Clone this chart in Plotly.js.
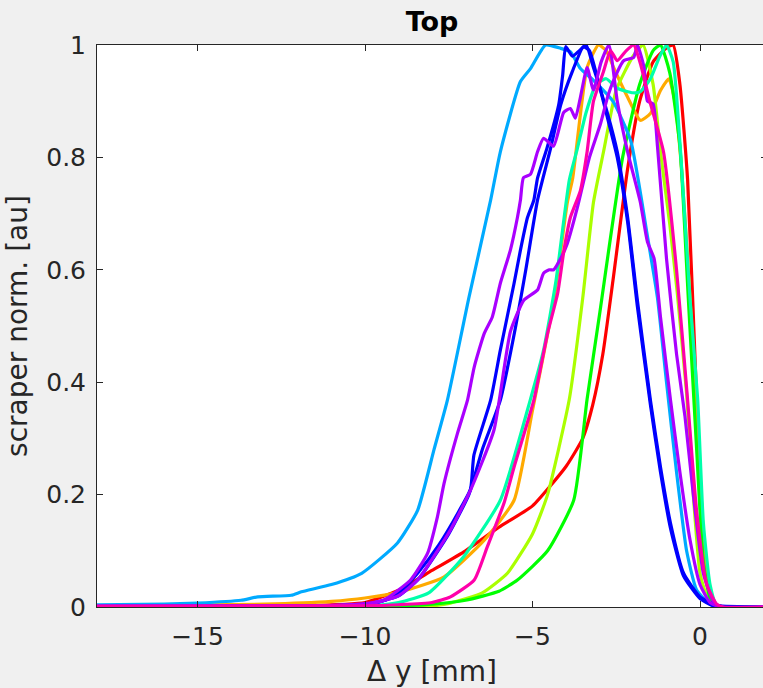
<!DOCTYPE html>
<html>
<head>
<meta charset="utf-8">
<script src="https://cdn.plot.ly/plotly-3.0.1.min.js"></script>
<style>
  html, body { margin: 0; padding: 0; overflow: hidden; background: #f0f0f0; }
  #chart { width: 770px; height: 688px; }
</style>
</head>
<body>
<div id="chart"></div>
<script>
// ---- data (x in mm, y normalised) ----
const redX = [-18,-12,-10,-9,-8,-7,-6,-5,-4,-3.5,-3.2,-2.9,-2.6,-2.16,-1.8,-1.4,-1.0,-0.8,-0.6,-0.37,-0.1,0.1,0.3,0.5,2];
const redY = [0,0.002,0.008,0.03,0.065,0.1,0.142,0.18,0.25,0.3,0.36,0.45,0.58,0.78,0.9,0.97,0.995,1.0,0.93,0.76,0.37,0.13,0.03,0.003,0];

const orangeX = [-18,-13,-11,-10,-8.94,-7.65,-6.44,-5.55,-5,-4.36,-3.96,-3.8,-3.37,-3.03,-2.8,-2.58,-2.16,-1.78,-1.48,-1.18,-0.93,-0.75,-0.55,-0.35,-0.1,0.1,0.3,0.5,2];
const orangeY = [0.002,0.005,0.01,0.016,0.027,0.053,0.119,0.19,0.35,0.546,0.72,0.763,0.96,1.0,0.99,0.96,0.907,0.866,0.878,0.919,0.94,0.9,0.78,0.6,0.35,0.13,0.03,0.003,0];

const limeX = [-18,-8,-7.45,-6.5,-5.75,-5,-4.55,-3.9,-3.5,-3.18,-2.88,-2.5,-2.0,-1.7,-1.4,-1.18,-0.9,-0.68,-0.4,-0.2,0,0.2,0.5,2];
const limeY = [0,0.002,0.007,0.025,0.06,0.13,0.2,0.37,0.55,0.72,0.81,0.92,0.98,1.0,0.93,0.81,0.68,0.56,0.38,0.2,0.06,0.02,0.002,0];

const greenX = [-18,-9,-8,-7,-6,-5.45,-4.55,-3.77,-3.37,-3.0,-2.31,-1.8,-1.4,-1.18,-0.9,-0.6,-0.35,-0.1,0.1,0.3,0.5,2];
const greenY = [0,0.002,0.005,0.012,0.028,0.048,0.1,0.19,0.37,0.52,0.8,0.93,0.99,1.0,0.95,0.82,0.55,0.28,0.08,0.015,0,0];

const springX = [-18,-10,-9,-8.1,-7.05,-5.96,-5.06,-4.67,-4.3,-3.9,-3.66,-3.4,-3.1,-2.8,-2.47,-2.0,-1.78,-1.48,-1.2,-1.0,-0.8,-0.58,-0.3,-0.07,0.1,0.3,0.5,2];
const springY = [0,0.002,0.008,0.025,0.09,0.19,0.37,0.457,0.58,0.76,0.816,0.88,0.93,0.94,0.923,0.915,0.917,0.94,0.98,1.0,0.97,0.81,0.55,0.37,0.15,0.04,0.003,0];

const skyX = [-18,-16,-15,-13.7,-13.2,-12.2,-11.9,-11,-10.1,-9.03,-8.43,-7.94,-7.54,-6.9,-6.25,-5.96,-5.36,-5.06,-4.61,-4.16,-3.87,-3.57,-3.18,-2.6,-2.07,-1.57,-1.27,-1.0,-0.7,-0.4,-0.1,0.3,0.6,2];
const skyY = [0.004,0.005,0.007,0.012,0.018,0.021,0.027,0.04,0.06,0.114,0.172,0.28,0.368,0.55,0.724,0.81,0.935,0.958,1.0,0.994,0.988,0.958,0.937,0.9,0.83,0.66,0.55,0.4,0.24,0.1,0.03,0.005,0,0];

const blueAX = [-18,-11,-10,-9.4,-8.9,-8.43,-7.8,-7.2,-6.85,-6.75,-6.25,-5.96,-5.55,-5.36,-5.15,-4.96,-4.85,-4.57,-4.22,-4.1,-4.01,-3.81,-3.6,-3.4,-3.18,-2.76,-2.47,-2.16,-1.87,-1.48,-1.18,-0.88,-0.49,0,0.5,2];
const blueAY = [0,0.002,0.005,0.012,0.03,0.06,0.11,0.17,0.21,0.27,0.368,0.457,0.576,0.635,0.693,0.724,0.763,0.816,0.893,0.946,0.997,0.98,0.99,1.0,0.96,0.878,0.81,0.693,0.546,0.368,0.249,0.149,0.06,0.018,0.003,0];

const blueBX = [-18,-11,-10,-9,-8.4,-7.5,-6.9,-6.5,-5.96,-5.5,-5.2,-4.85,-4.46,-4.16,-3.81,-3.48,-3.3,-3.1,-2.76,-2.47,-2.16,-1.87,-1.48,-1.18,-0.88,-0.49,0,0.4,2];
const blueBY = [0,0.002,0.004,0.02,0.05,0.13,0.2,0.28,0.368,0.5,0.6,0.724,0.816,0.893,0.953,0.997,0.99,0.95,0.87,0.8,0.685,0.535,0.36,0.24,0.14,0.055,0.015,0.002,0];

const violetAX = [-18,-11,-10,-9.45,-8.64,-8.13,-7.84,-7.64,-7.24,-6.94,-6.74,-6.44,-6.2,-5.96,-5.66,-5.45,-5.36,-5.27,-5.06,-4.85,-4.67,-4.37,-4.07,-3.87,-3.72,-3.57,-3.37,-3.18,-2.95,-2.72,-2.47,-2.16,-1.78,-1.57,-1.37,-1.18,-0.88,-0.6,-0.3,0,0.3,0.6,2];
const violetAY = [0.002,0.003,0.006,0.012,0.048,0.096,0.16,0.22,0.309,0.368,0.427,0.487,0.516,0.576,0.635,0.693,0.724,0.764,0.77,0.81,0.834,0.82,0.88,0.887,0.87,0.907,0.96,0.92,0.97,1.0,0.9,0.81,0.72,0.65,0.62,0.516,0.368,0.24,0.12,0.04,0.008,0,0];

const violetBX = [-18,-11,-10,-9,-8.4,-7.45,-6.85,-6.15,-5.66,-5.26,-4.85,-4.67,-4.5,-4.37,-4.16,-3.96,-3.66,-3.3,-2.97,-2.76,-2.58,-2.28,-1.98,-1.87,-1.67,-1.57,-1.4,-1.27,-1.0,-0.7,-0.45,-0.2,0.1,0.4,0.6,2];
const violetBY = [0,0.002,0.004,0.02,0.05,0.137,0.208,0.315,0.49,0.546,0.564,0.594,0.6,0.6,0.62,0.647,0.711,0.8,0.86,0.907,0.937,0.972,0.978,1.0,0.96,0.9,0.895,0.82,0.62,0.45,0.34,0.2,0.06,0.01,0,0];

const pinkX = [-18,-10,-9,-8,-7.45,-6.74,-6.35,-5.85,-5.55,-4.96,-4.55,-4.25,-4.06,-3.87,-3.57,-3.37,-3.18,-2.88,-2.67,-2.47,-2.2,-1.98,-1.78,-1.5,-1.09,-0.7,-0.37,-0.1,0.2,0.5,0.7,2];
const pinkY = [0.001,0.002,0.004,0.008,0.018,0.048,0.107,0.185,0.249,0.368,0.487,0.558,0.635,0.693,0.741,0.81,0.9,0.953,0.99,0.972,0.99,1.0,0.967,0.9,0.81,0.6,0.368,0.17,0.04,0.005,0,0];

const xTicks = [-15, -10, -5, 0];
const yTicks = [0, 0.2, 0.4, 0.6, 0.8, 1];
const xTickText = ['\u221215', '\u221210', '\u22125', '0'];
const yTickText = ['0', '0.2', '0.4', '0.6', '0.8', '1'];

const series = [
  {x: redX, y: redY, c: '#ff0000'},
  {x: orangeX, y: orangeY, c: '#ffaa00'},
  {x: limeX, y: limeY, c: '#aaff00'},
  {x: greenX, y: greenY, c: '#00ff00'},
  {x: springX, y: springY, c: '#00ffaa'},
  {x: skyX, y: skyY, c: '#00aaff'},
  {x: blueAX, y: blueAY, c: '#0000ff'},
  {x: blueBX, y: blueBY, c: '#0000ff'},
  {x: violetAX, y: violetAY, c: '#aa00ff'},
  {x: violetBX, y: violetBY, c: '#aa00ff'},
  {x: pinkX, y: pinkY, c: '#ff00aa'}
];

const traces = series.map(s => ({
  type: 'scatter', mode: 'lines', x: s.x, y: s.y,
  line: {color: s.c, width: 3.2, shape: 'spline', smoothing: 0.5},
  hoverinfo: 'skip', showlegend: false
}));

const FONT = 'DejaVu Sans, sans-serif';
const axCol = '#262626';

const layout = {
  width: 770, height: 688,
  margin: {l: 97, r: 3, t: 45, b: 81},
  paper_bgcolor: '#f0f0f0',
  plot_bgcolor: '#ffffff',
  showlegend: false,
  title: {
    text: 'Top', x: 0.5, xref: 'paper', xanchor: 'center',
    y: 1 - 22/688, yref: 'container', yanchor: 'middle',
    font: {family: FONT, size: 27, color: '#000000', weight: 'bold'}
  },
  xaxis: {
    range: [-18, 2], tickvals: xTicks, ticktext: xTickText,
    ticks: 'inside', ticklen: 6, tickcolor: axCol, tickwidth: 1,
    showline: true, linecolor: axCol, linewidth: 1, mirror: 'ticks',
    showgrid: false, zeroline: false,
    tickfont: {family: FONT, size: 25, color: axCol},
    ticklabelstandoff: 7,
    title: {text: '\u0394 y [mm]', font: {family: FONT, size: 28, color: axCol}, standoff: 12}
  },
  yaxis: {
    range: [0, 1], tickvals: yTicks, ticktext: yTickText,
    ticks: 'inside', ticklen: 6, tickcolor: axCol, tickwidth: 1,
    showline: true, linecolor: axCol, linewidth: 1, mirror: 'ticks',
    showgrid: false, zeroline: false,
    tickfont: {family: FONT, size: 25, color: axCol},
    ticklabelstandoff: 5,
    title: {text: 'scraper norm. [au]', font: {family: FONT, size: 28, color: axCol}, standoff: 10}
  }
};

Plotly.newPlot('chart', traces, layout, {displayModeBar: false, staticPlot: true});
</script>
</body>
</html>
